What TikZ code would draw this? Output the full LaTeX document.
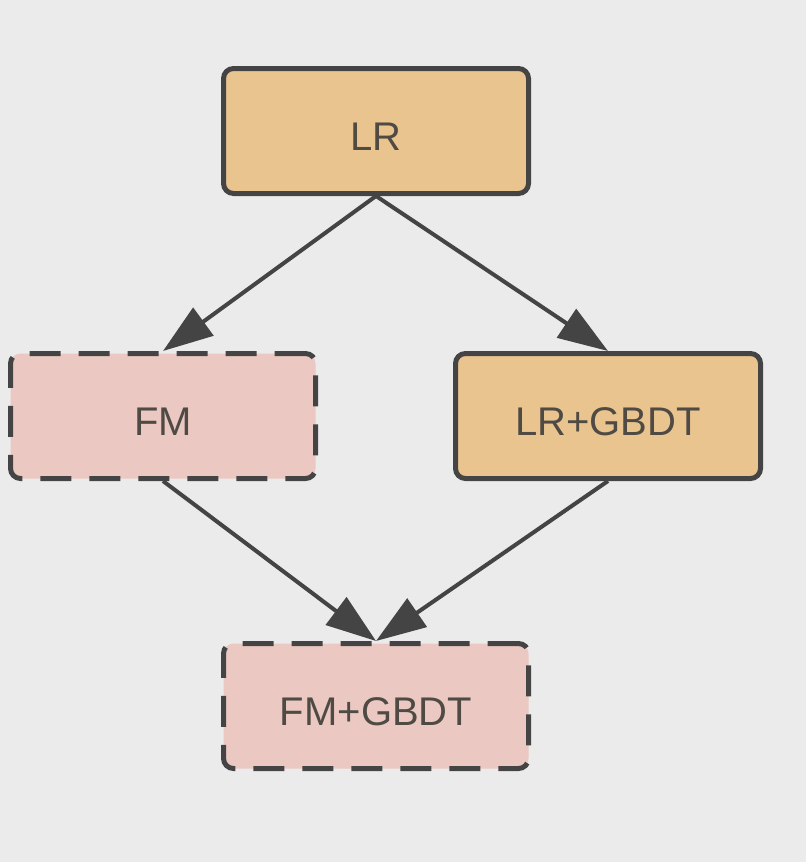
\documentclass[tikz,border=0pt]{standalone}
\usepackage{fontspec}
\setmainfont{Liberation Sans}
\usetikzlibrary{arrows.meta,positioning}
\definecolor{bg}{HTML}{EBEBEB}
\definecolor{lrfill}{HTML}{E9C48F}
\definecolor{fmfill}{HTML}{EBC8C2}
\definecolor{rim}{HTML}{444444}
\definecolor{ink}{HTML}{4F4A44}
\tikzset{box/.style={draw=rim, line width=2.5pt, rectangle, rounded corners=5pt, minimum width=152.5pt, minimum height=62.5pt, text=ink, text height=19pt, text depth=0pt, font=\fontsize{20}{24}\selectfont}}
\tikzset{lrbox/.style={box, fill=lrfill}}
\tikzset{fmbox/.style={box, fill=fmfill, dash pattern=on 15.5pt off 9pt}}
\tikzset{arr/.style={draw=rim, line width=2pt, -{Triangle[length=25pt,width=17pt]}}}

\begin{document}
\begin{tikzpicture}[level distance=142.5pt]
\fill[bg] (0,0) rectangle (403pt,-431pt);
\tikzstyle{level 1}=[sibling distance=222.5pt]
\tikzstyle{edge from parent}=[arr]
\tikzset{edge from parent path={(\tikzparentnode.south) -- (\tikzchildnode.north)}}
\node[lrbox] (lr) at (188pt,-65.5pt) {LR}
 child[xshift=4.75pt] {node[fmbox] (fm) {FM}}
 child[xshift=4.75pt] {node[lrbox] (lrg) {LR+GBDT}};
\node[fmbox, below=222.5pt of lr] (fmg) {FM+GBDT};
\draw[arr] (fm.south) -- (fmg.north);
\draw[arr] (lrg.south) -- (fmg.north);
\end{tikzpicture}
\end{document}
